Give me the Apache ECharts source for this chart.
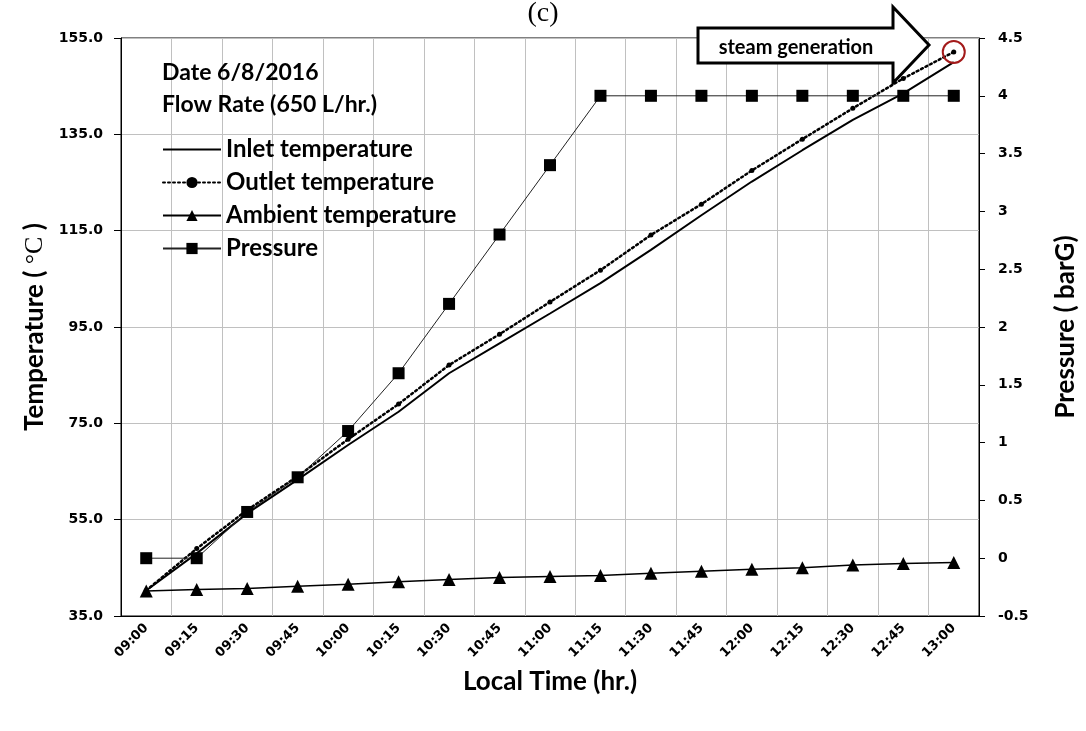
<!DOCTYPE html>
<html>
<head>
<meta charset="utf-8">
<script src="https://cdn.jsdelivr.net/npm/echarts@6/dist/echarts.min.js"></script>
<style>
html,body{margin:0;padding:0;background:#fff;}
#chart{width:1086px;height:731px;}
</style>
</head>
<body>
<div id="chart"></div>
<script>
const times = ['09:00','09:15','09:30','09:45','10:00','10:15','10:30','10:45','11:00','11:15','11:30','11:45','12:00','12:15','12:30','12:45','13:00'];
const inletTemp = [40.3, 48.0, 56.3, 63.3, 70.5, 77.4, 85.4, 91.6, 97.8, 104.1, 111.0, 118.2, 125.2, 131.7, 138.0, 143.5, 150.0];
const outletTemp = [40.3, 49.0, 57.0, 64.0, 71.7, 79.0, 87.1, 93.5, 100.2, 106.8, 114.1, 120.5, 127.5, 134.0, 140.4, 146.6, 152.1];
const ambientTemp = [40.2, 40.5, 40.7, 41.2, 41.6, 42.1, 42.6, 43.0, 43.2, 43.4, 43.9, 44.3, 44.7, 45.0, 45.6, 45.9, 46.1];
const pressure = [0, 0, 0.4, 0.7, 1.1, 1.6, 2.2, 2.8, 3.4, 4.0, 4.0, 4.0, 4.0, 4.0, 4.0, 4.0, 4.0];
const tempTicks = [35, 55, 75, 95, 115, 135, 155];
const pressureMin = -0.5, pressureMax = 4.5, pressureStep = 0.5;

const chart = echarts.init(document.getElementById('chart'), null, {renderer: 'canvas'});
const black = '#000';
const labelFont = {fontFamily: 'DejaVu Sans', fontWeight: 'bold', fontSize: 14, color: black};
const nameFont = {fontFamily: 'Lato', fontWeight: 'bold', fontSize: 26, color: black};

chart.setOption({
  animation: false,
  backgroundColor: '#fff',
  title: {
    text: '(c)', left: 'center', top: -5,
    textStyle: {fontFamily: 'Liberation Serif', fontWeight: 'normal', fontSize: 28, color: black}
  },
  grid: {left: 121, right: 107, top: 38, bottom: 115, show: true, borderColor: black, borderWidth: 1,
         containLabel: false, outerBoundsMode: 'none'},
  legend: {
    orient: 'vertical', left: 157, top: 132,
    itemWidth: 58, itemHeight: 14, itemGap: 8,
    textStyle: {fontFamily: 'Lato', fontWeight: 'bold', fontSize: 24, color: black, lineHeight: 25},
    data: [
      {name: 'Inlet temperature', itemStyle: {opacity: 0}},
      'Outlet temperature', 'Ambient temperature', 'Pressure'
    ]
  },
  xAxis: {
    type: 'category', data: times, boundaryGap: true,
    name: 'Local Time (hr.)', nameLocation: 'middle', nameGap: 53,
    nameTextStyle: nameFont,
    axisLine: {onZero: false, lineStyle: {color: black, width: 1}},
    axisTick: {alignWithLabel: true, length: 6, lineStyle: {color: black}},
    axisLabel: Object.assign({rotate: 45, interval: 0, margin: 10}, labelFont, {fontSize: 13}),
    splitLine: {show: true, interval: 0, lineStyle: {color: '#c0c0c0', width: 1}}
  },
  yAxis: [
    {
      type: 'value', min: 35, max: 155,
      name: '{a|Temperature ( }{b|°C}{a| )}', nameLocation: 'middle', nameGap: 73, nameRotate: 90,
      nameTextStyle: {rich: {
        a: {fontFamily: 'Lato', fontWeight: 'bold', fontSize: 26, color: black},
        b: {fontFamily: 'Liberation Serif', fontWeight: 'normal', fontSize: 26, color: black}
      }},
      axisLine: {show: true, onZero: false, lineStyle: {color: black, width: 1}},
      axisTick: {show: true, length: 7, customValues: tempTicks, lineStyle: {color: black}},
      axisLabel: Object.assign({customValues: tempTicks, margin: 18, formatter: v => v.toFixed(1)}, labelFont),
      splitLine: {show: true, lineStyle: {color: '#c0c0c0', width: 1}}
    },
    {
      type: 'value', min: pressureMin, max: pressureMax, interval: pressureStep, position: 'right',
      name: 'Pressure ( barG)', nameLocation: 'middle', nameGap: 74, nameRotate: 90,
      nameTextStyle: nameFont,
      axisLine: {show: true, onZero: false, lineStyle: {color: black, width: 1}},
      axisTick: {show: true, length: 6, lineStyle: {color: black}},
      axisLabel: Object.assign({margin: 19, formatter: v => String(v)}, labelFont),
      splitLine: {show: false}
    }
  ],
  series: [
    {
      name: 'Inlet temperature', type: 'line', data: inletTemp, yAxisIndex: 0,
      symbol: 'none', lineStyle: {color: black, width: 2}, itemStyle: {color: black}, z: 3
    },
    {
      name: 'Outlet temperature', type: 'line', data: outletTemp, yAxisIndex: 0,
      symbol: 'circle', symbolSize: 5,
      lineStyle: {color: black, width: 2.5, type: [2, 3], cap: 'round'}, itemStyle: {color: black}, z: 3,
      markPoint: {
        symbol: 'circle', symbolSize: 22, silent: true,
        itemStyle: {color: 'rgba(0,0,0,0)', borderColor: '#a31a1a', borderWidth: 2},
        label: {show: false},
        data: [{coord: [times.length - 1, outletTemp[outletTemp.length - 1]]}]
      }
    },
    {
      name: 'Ambient temperature', type: 'line', data: ambientTemp, yAxisIndex: 0,
      symbol: 'triangle', symbolSize: 13, lineStyle: {color: black, width: 1.5}, itemStyle: {color: black}, z: 3
    },
    {
      name: 'Pressure', type: 'line', data: pressure, yAxisIndex: 1,
      symbol: 'rect', symbolSize: 12, lineStyle: {color: '#222', width: 1}, itemStyle: {color: black}, z: 3
    }
  ],
  graphic: [
    {
      type: 'text', left: 162, top: 61, z: 10,
      style: {text: 'Date 6/8/2016', fontFamily: 'Lato', fontWeight: 'bold', fontSize: 23, fill: black}
    },
    {
      type: 'text', left: 162, top: 93, z: 10,
      style: {text: 'Flow Rate (650 L/hr.)', fontFamily: 'Lato', fontWeight: 'bold', fontSize: 23, fill: black}
    },
    {
      type: 'polygon', z: 20,
      shape: {points: [[698, 28], [893, 28], [893, 7], [929, 45], [893, 83], [893, 63], [698, 63]]},
      style: {fill: '#fff', stroke: black, lineWidth: 3, lineJoin: 'miter'}
    },
    {
      type: 'text', x: 796, y: 48, z: 21,
      style: {text: 'steam generation', fontFamily: 'Lato', fontWeight: 'bold', fontSize: 20, fill: black, align: 'center', verticalAlign: 'middle'}
    }
  ]
});
</script>
</body>
</html>
